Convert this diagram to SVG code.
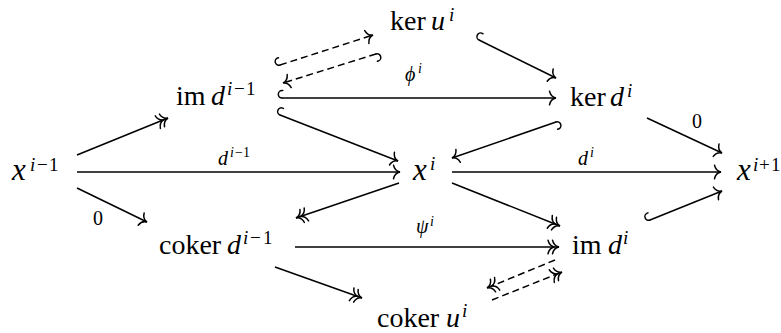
<svg xmlns="http://www.w3.org/2000/svg" width="781" height="333" viewBox="0 0 781 333" font-family="'Liberation Serif', 'DejaVu Serif', serif">
<style>
  .arr { stroke: #000; stroke-width: 1.5; fill: none; }
  .dash { stroke-dasharray: 7 4; }
  .one { marker-end: url(#head); }
  .two { marker-end: url(#head2); }
  .hook { marker-start: url(#hook); }
  .mk { stroke: #000; stroke-width: 1.5; fill: none; stroke-linecap: round; }
  text { font-family: 'Liberation Serif', 'DejaVu Serif', serif; fill: #000; }
  .n { font-size: 28px; }
  .x { font-size: 31px; font-style: italic; }
  .it { font-style: italic; }
  .sup { font-size: 19px; }
  .lab { font-size: 20px; }
  .lsup { font-size: 14px; }
</style>
<defs>
  <marker id="head" markerUnits="userSpaceOnUse" orient="auto" refX="0" refY="0" markerWidth="20" markerHeight="20" overflow="visible">
    <path class="mk" d="M-6.5,-6.8 Q-5.2,-0.8 0,0 Q-5.2,0.8 -6.5,6.8"/>
  </marker>
  <marker id="head2" markerUnits="userSpaceOnUse" orient="auto" refX="0" refY="0" markerWidth="20" markerHeight="20" overflow="visible">
    <path class="mk" d="M-6.5,-6.8 Q-5.2,-0.8 0,0 Q-5.2,0.8 -6.5,6.8 M-11,-6.8 Q-9.7,-0.8 -4.5,0 Q-9.7,0.8 -11,6.8"/>
  </marker>
  <marker id="hook" markerUnits="userSpaceOnUse" orient="auto" refX="0" refY="0" markerWidth="20" markerHeight="20" overflow="visible">
    <path class="mk" d="M0,0 A3.7,3.7 0 0 1 0,-7.4 L0.8,-7.4"/>
  </marker>
</defs>

<g id="connectors">
  <line class="arr two" x1="77" y1="155" x2="168" y2="118"/>
  <line class="arr one" x1="77" y1="172" x2="400" y2="172"/>
  <line class="arr one" x1="77" y1="188" x2="147" y2="222"/>
  <line class="arr one hook" x1="282" y1="98" x2="556" y2="98"/>
  <line class="arr one hook" x1="280" y1="115" x2="398" y2="161"/>
  <line class="arr one hook" x1="479" y1="40" x2="556" y2="78"/>
  <line class="arr one hook dash" x1="280" y1="65" x2="373" y2="35"/>
  <line class="arr one hook dash" x1="376" y1="54" x2="283" y2="83"/>
  <line class="arr one hook" x1="556" y1="122" x2="452" y2="158"/>
  <line class="arr one" x1="647" y1="118" x2="722" y2="153"/>
  <line class="arr one" x1="452" y1="172" x2="721" y2="172"/>
  <line class="arr two" x1="399" y1="183" x2="296" y2="218"/>
  <line class="arr two" x1="452" y1="183" x2="560" y2="226"/>
  <line class="arr two" x1="295" y1="247" x2="559" y2="247"/>
  <line class="arr two" x1="275" y1="267" x2="362" y2="298"/>
  <line class="arr one hook" x1="650" y1="220" x2="722" y2="191"/>
  <line class="arr two dash" x1="555" y1="260" x2="487" y2="288"/>
  <line class="arr two dash" x1="492" y1="300" x2="562" y2="272"/>
  <g id="labels">
    <text class="lab"><tspan class="it" x="218" y="165">d</tspan><tspan class="lsup it" x="230" y="157">i</tspan><tspan class="lsup" x="235" y="157">−1</tspan></text>
    <text class="lab" x="93" y="225">0</text>
    <text class="lab"><tspan class="it" x="405" y="81">ϕ</tspan><tspan class="lsup it" x="418" y="73">i</tspan></text>
    <text class="lab"><tspan class="it" x="578" y="165">d</tspan><tspan class="lsup it" x="590" y="157">i</tspan></text>
    <text class="lab" x="692" y="128">0</text>
    <text class="lab"><tspan class="it" x="416" y="233">ψ</tspan><tspan class="lsup it" x="430" y="226">i</tspan></text>
  </g>
</g>

<g id="node-x-im1">
  <text><tspan class="x" x="12" y="180">x</tspan><tspan class="sup it" x="30" y="171">i</tspan><tspan class="sup" x="37" y="171">−</tspan><tspan class="sup" x="49" y="171">1</tspan></text>
</g>
<g id="node-im-d-im1">
  <text class="n"><tspan x="176" y="105">im</tspan><tspan class="it" x="211" y="105">d</tspan><tspan class="sup it" x="227" y="95">i</tspan><tspan class="sup" x="234" y="95">−</tspan><tspan class="sup" x="246" y="95">1</tspan></text>
</g>
<g id="node-ker-u">
  <text class="n"><tspan x="390" y="30">ker</tspan><tspan class="it" x="431" y="30">u</tspan><tspan class="sup it" x="449" y="21">i</tspan></text>
</g>
<g id="node-ker-d">
  <text class="n"><tspan x="570" y="106">ker</tspan><tspan class="it" x="610" y="106">d</tspan><tspan class="sup it" x="627" y="97">i</tspan></text>
</g>
<g id="node-x-i">
  <text><tspan class="x" x="413" y="180">x</tspan><tspan class="sup it" x="430" y="170">i</tspan></text>
</g>
<g id="node-x-ip1">
  <text><tspan class="x" x="737" y="180">x</tspan><tspan class="sup it" x="753" y="171">i</tspan><tspan class="sup" x="759" y="171">+</tspan><tspan class="sup" x="771" y="171">1</tspan></text>
</g>
<g id="node-coker-d-im1">
  <text class="n"><tspan x="159" y="254">coker</tspan><tspan class="it" x="227" y="254">d</tspan><tspan class="sup it" x="243" y="244">i</tspan><tspan class="sup" x="250" y="244">−</tspan><tspan class="sup" x="263" y="244">1</tspan></text>
</g>
<g id="node-im-d-i">
  <text class="n"><tspan x="572" y="254">im</tspan><tspan class="it" x="608" y="254">d</tspan><tspan class="sup it" x="623" y="244">i</tspan></text>
</g>
<g id="node-coker-u">
  <text class="n"><tspan x="377" y="327">coker</tspan><tspan class="it" x="446" y="327">u</tspan><tspan class="sup it" x="462" y="317">i</tspan></text>
</g>
</svg>
